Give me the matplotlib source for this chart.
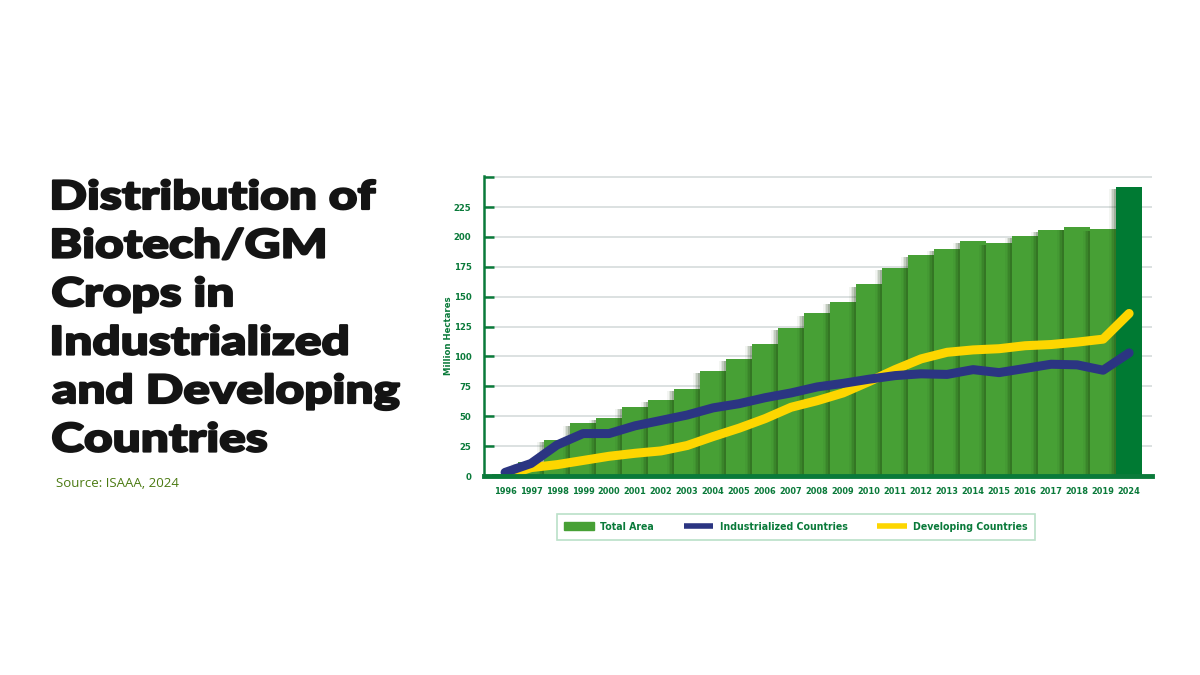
import numpy as np
import matplotlib
matplotlib.use("Agg")
from matplotlib import pyplot as plt
from matplotlib.patches import Patch, PathPatch
from matplotlib.lines import Line2D
from matplotlib.textpath import TextPath
from matplotlib.font_manager import FontProperties
from matplotlib.transforms import Affine2D

# values (million hectares)
years = ['1996', '1997', '1998', '1999', '2000', '2001', '2002', '2003', '2004',
         '2005', '2006', '2007', '2008', '2009', '2010', '2011', '2012', '2013',
         '2014', '2015', '2016', '2017', '2018', '2019', '2024']
total_area = [1.7, 12, 30.5, 44, 48.5, 58, 64, 73, 88, 98, 110.5, 124, 136,
              145.5, 160.5, 174, 185, 190, 197, 195, 201, 206, 208, 207, 242]
industrialized = [3, 10.5, 26, 35.5, 35.5, 42, 46.5, 51, 57, 60.5, 65.5, 69.5,
                  74.5, 77.5, 81, 84, 85.5, 85, 89, 86.5, 90, 93.5, 93, 88.5, 103]
developing = [0, 7, 9.5, 13, 16.5, 19, 21, 25.5, 33, 40, 48, 57.5, 63, 69.5,
              79, 89, 98, 103.5, 105.5, 106.5, 109, 110, 112, 114.5, 136]
y_ticks = [0, 25, 50, 75, 100, 125, 150, 175, 200, 225]

green_txt = '#0a7a3a'
bar_green = '#47a035'
bar_dark = '#007a33'
navy = '#2b3582'
yellow = '#fdd600'

W, H = 1200, 675
fig = plt.figure(figsize=(12, 6.75), dpi=100)
fig.patch.set_facecolor('white')

# title block on the left, drawn as paths so it can be widened like the original typeface
title_lines = ['Distribution of', 'Biotech/GM', 'Crops in', 'Industrialized',
               'and Developing', 'Countries']
tprop = FontProperties(family='Lato', weight='black')
size = 40
ref = TextPath((0, 0), 'Industrialized', size=size, prop=tprop).get_extents()
sx = 294.0 / ref.width
sy = 28.5 / TextPath((0, 0), 'D', size=size, prop=tprop).get_extents().height
for i, line in enumerate(title_lines):
    tp = TextPath((0, 0), line, size=size, prop=tprop)
    x0 = tp.get_extents().x0
    tr = Affine2D().translate(-x0, 0).scale(sx, sy).translate(53, H - (209 + i * 48.5))
    fig.add_artist(PathPatch(tp, transform=tr, facecolor='#141414',
                             edgecolor='#141414', lw=1.6, joinstyle='round'))
fig.text(56 / W, 1 - 487 / H, 'Source: ISAAA, 2024', fontsize=9.5,
         family='Open Sans', color='#4b7a12', va='baseline')

ax = fig.add_axes([484 / W, 1 - 476 / H, (1152 - 484) / W, 300 / H])
x = np.arange(len(years))
colors = [bar_green] * (len(years) - 1) + [bar_dark]
ax.bar(x, total_area, width=1.0, color=colors, zorder=2)
# soft shadow that each bar casts onto its left neighbour
shadow_h = np.array(total_area[1:]) - 2.0
for k, a in enumerate([0.05, 0.09, 0.14, 0.20]):
    w = 0.07 * (4 - k)
    ax.bar(x[1:] - 0.5 - w, shadow_h, width=w, align='edge',
           color='#1c3d10', alpha=a, zorder=2.5, linewidth=0)

ax.plot(x, industrialized, color=navy, lw=6.5, solid_capstyle='round',
        solid_joinstyle='round', zorder=4)
ax.plot(x, developing, color=yellow, lw=6.5, solid_capstyle='round',
        solid_joinstyle='round', zorder=3)

ax.set_xlim(-0.81, 24.88)
ax.set_ylim(0, 251)
ax.set_yticks(y_ticks + [250])
ax.set_yticklabels([str(v) for v in y_ticks] + [''])
ax.yaxis.grid(True, color='#d5dcdc', lw=1.2, zorder=0)
ax.set_axisbelow(True)
ax.set_xticks(x)
ax.set_xticklabels(years)

for s in ['top', 'right']:
    ax.spines[s].set_visible(False)
ax.spines['left'].set_color(green_txt)
ax.spines['left'].set_linewidth(1.8)
ax.spines['bottom'].set_color(green_txt)
ax.spines['bottom'].set_linewidth(3.5)
ax.spines['bottom'].set_zorder(5)

ax.tick_params(axis='y', direction='in', length=7, width=1.8, color=green_txt,
               pad=9)
ax.tick_params(axis='x', length=0, pad=8)
for lab in ax.get_yticklabels() + ax.get_xticklabels():
    lab.set_fontfamily('DejaVu Sans')
    lab.set_fontstretch('condensed')
    lab.set_fontweight('bold')
    lab.set_color(green_txt)
    lab.set_fontsize(6.8)
for lab in ax.get_xticklabels():
    lab.set_fontsize(6.6)

ax.set_ylabel('Million Hectares', fontsize=6.8, family='DejaVu Sans',
              stretch='condensed', weight='bold', color=green_txt)
ax.yaxis.set_label_coords(-0.047, 0.467)

handles = [Patch(color=bar_green),
           Line2D([], [], color=navy, lw=4, solid_capstyle='butt'),
           Line2D([], [], color=yellow, lw=4, solid_capstyle='butt')]
labels = ['Total Area', 'Industrialized Countries', 'Developing Countries']
leg = fig.legend(handles, labels, loc='center', ncol=3,
                 bbox_to_anchor=(796 / W, 1 - 527 / H),
                 frameon=True, fancybox=False, edgecolor='#a9d9bb',
                 handlelength=2.8, handleheight=0.8, columnspacing=2.8,
                 handletextpad=0.6, borderpad=0.75,
                 prop=dict(family='DejaVu Sans', stretch='condensed',
                           weight='bold', size=7.6))
leg.get_frame().set_linewidth(1.2)
for t in leg.get_texts():
    t.set_color(green_txt)

fig.savefig('out.png', dpi=100, facecolor='white')
